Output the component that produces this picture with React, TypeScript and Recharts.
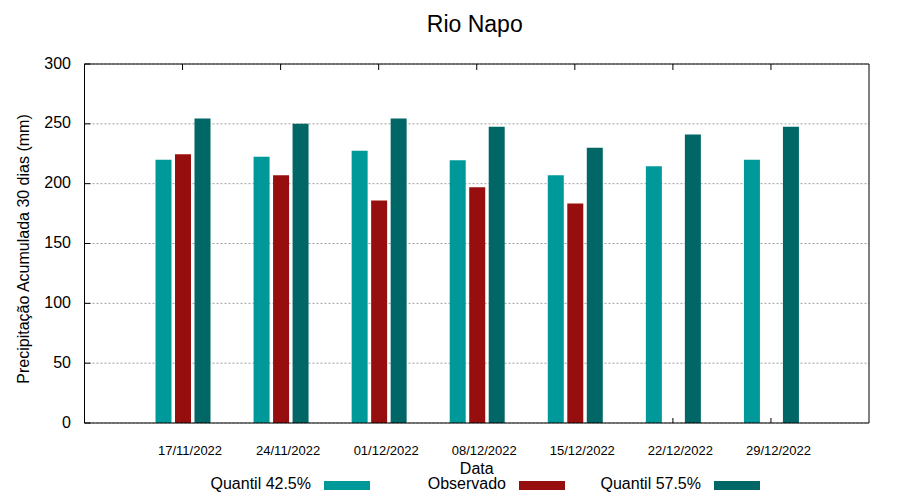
import React from "react";
import {
  BarChart, Bar, XAxis, YAxis, CartesianGrid, Legend
} from "recharts";

const dates = [
  "17/11/2022", "24/11/2022", "01/12/2022", "08/12/2022",
  "15/12/2022", "22/12/2022", "29/12/2022"
];
const quantil425 = [220, 222.5, 227.5, 219.5, 207, 214.5, 220];
const observado: (number | null)[] = [224.5, 207, 186, 197, 183.5, null, null];
const quantil575 = [254.5, 250, 254.5, 247.5, 230, 241, 247.5];
const yTicks = [0, 50, 100, 150, 200, 250, 300];
const seriesNames = ["Quantil 42.5%", "Observado", "Quantil 57.5%"];

const FONT = '"Liberation Sans", Arial, Helvetica, sans-serif';
const TEAL = "#009999";
const RED = "#970e0e";
const DARK_TEAL = "#006666";

const data = dates.map((date, i) => ({
  date,
  q425: quantil425[i],
  obs: observado[i],
  q575: quantil575[i]
}));

// gnuplot style: tics point inward, labels sit outside
function LeftTick(props: any) {
  const { x, y, payload } = props;
  return (
    <g>
      <line x1={x} y1={y} x2={x + 6} y2={y} stroke="#000" />
      <text x={x - 13.5} y={y + 4.5} textAnchor="end" fontSize={16} fill="#000" fontFamily={FONT}>
        {payload.value}
      </text>
    </g>
  );
}

function RightTick(props: any) {
  const { x, y } = props;
  return <line x1={x - 6} y1={y} x2={x} y2={y} stroke="#000" />;
}

function BottomTick(props: any) {
  const { x, y, payload, index } = props;
  // the centre tic is hidden behind the red bar when there is one
  const covered = observado[index] != null;
  return (
    <g>
      {!covered && <line x1={x} y1={y} x2={x} y2={y - 5} stroke="#000" />}
      <text x={x + 7.5} y={y + 32} textAnchor="middle" fontSize={13} fill="#000" fontFamily={FONT}>
        {payload.value}
      </text>
    </g>
  );
}

function TopTick(props: any) {
  const { x, y } = props;
  return <line x1={x} y1={y} x2={x} y2={y + 6} stroke="#000" />;
}

function Title(props: any) {
  const vb = props.viewBox || { x: 84.5, width: 784.5 };
  return (
    <text x={vb.x + vb.width / 2 - 2} y={31.7} textAnchor="middle" fontSize={23} fill="#000" fontFamily={FONT}>
      Rio Napo
    </text>
  );
}

function YLabel(props: any) {
  const vb = props.viewBox || { y: 64, height: 359 };
  const cx = 28.5;
  const cy = vb.y + vb.height / 2 + 5.5;
  return (
    <text
      x={cx}
      y={cy}
      transform={`rotate(-90 ${cx} ${cy})`}
      textAnchor="middle"
      fontSize={16}
      fill="#000"
      fontFamily={FONT}
    >
      Precipitação Acumulada 30 dias (mm)
    </text>
  );
}

function LegendContent(props: any) {
  const items = [...(props.payload || [])].sort(
    (a: any, b: any) => seriesNames.indexOf(a.value) - seriesNames.indexOf(b.value)
  );
  return (
    <div style={{ height: 20, display: "flex", paddingLeft: 175, fontSize: 16, lineHeight: "20px", fontFamily: FONT, color: "#000" }}>
      {items.map((it: any) => (
        <div key={it.value} style={{ width: 195, display: "flex", justifyContent: "flex-end" }}>
          <span>{it.value}</span>
          <span style={{ display: "block", width: 46, height: 9, marginTop: 7, marginLeft: 13, background: it.color }} />
        </div>
      ))}
    </div>
  );
}

export default function App() {
  return (
    <div style={{ position: "absolute", left: 0, top: 0, width: 900, height: 500, background: "#fff", fontFamily: FONT }}>
      <BarChart
        width={900}
        height={500}
        data={data}
        margin={{ top: 0, right: 0, bottom: 6, left: 0 }}
        barSize={16}
        barGap={3.5}
      >
        <CartesianGrid vertical={false} stroke="#a0a0a0" strokeDasharray="2 2" />
        <XAxis
          dataKey="date"
          height={51}
          padding={{ left: 49, right: 49 }}
          axisLine={{ stroke: "#000" }}
          tickLine={false}
          tickSize={0}
          tickMargin={0}
          tick={<BottomTick />}
          interval={0}
          label={{ value: "Data", position: "insideBottom", offset: 0, fontSize: 16, fill: "#000", fontFamily: FONT }}
        />
        <XAxis
          xAxisId="top"
          orientation="top"
          dataKey="date"
          height={64}
          padding={{ left: 49, right: 49 }}
          axisLine={{ stroke: "#000" }}
          tickLine={false}
          tickSize={0}
          tickMargin={0}
          tick={<TopTick />}
          interval={0}
          label={Title}
        />
        <YAxis
          width={84.5}
          domain={[0, 300]}
          ticks={yTicks}
          axisLine={{ stroke: "#000" }}
          tickLine={false}
          tickSize={0}
          tickMargin={0}
          tick={<LeftTick />}
          interval={0}
          label={YLabel}
        />
        <YAxis
          yAxisId="right"
          orientation="right"
          width={31}
          domain={[0, 300]}
          ticks={yTicks}
          axisLine={{ stroke: "#000" }}
          tickLine={false}
          tickSize={0}
          tickMargin={0}
          tick={<RightTick />}
          interval={0}
        />
        <Legend verticalAlign="bottom" content={<LegendContent />} wrapperStyle={{ left: 0 }} />
        <Bar dataKey="q425" name={seriesNames[0]} fill={TEAL} isAnimationActive={false} />
        <Bar dataKey="obs" name={seriesNames[1]} fill={RED} isAnimationActive={false} />
        <Bar dataKey="q575" name={seriesNames[2]} fill={DARK_TEAL} isAnimationActive={false} />
      </BarChart>
    </div>
  );
}
